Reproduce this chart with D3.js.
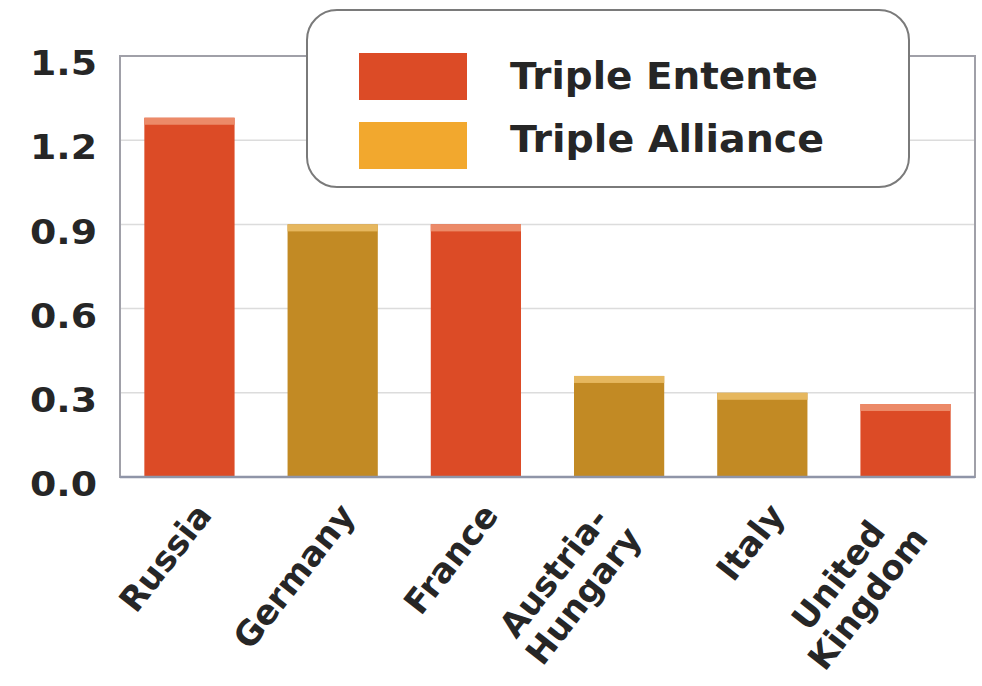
<!DOCTYPE html>
<html>
<head>
<meta charset="utf-8">
<script src="https://cdn.jsdelivr.net/npm/d3@7"></script>
<style>
  body { margin: 0; background: #fff; }
  text { font-family: "DejaVu Sans", sans-serif; font-weight: bold; fill: #262626; }
</style>
</head>
<body>
<svg id="chart" width="982" height="686"></svg>
<script>
// Data
const countries = ["Russia", "Germany", "France", "Austria-\nHungary", "Italy", "United\nKingdom"];
const values = [1.28, 0.9, 0.9, 0.36, 0.3, 0.26];
const alliances = ["Triple Entente", "Triple Alliance", "Triple Entente", "Triple Alliance", "Triple Alliance", "Triple Entente"];
const legendNames = ["Triple Entente", "Triple Alliance"];
const yTicks = [0, 0.3, 0.6, 0.9, 1.2, 1.5];

const barColor = { "Triple Entente": "#dc4b26", "Triple Alliance": "#c28a24" };
const barTop = { "Triple Entente": "#ec8a68", "Triple Alliance": "#e6b75e" };
const swatchColor = { "Triple Entente": "#dc4b26", "Triple Alliance": "#f2a82e" };

const svg = d3.select("#chart");
const plotLeft = 120, plotRight = 975, plotTop = 56, plotBottom = 477;

const x = d3.scaleBand()
    .domain(countries)
    .range([plotLeft, plotRight])
    .paddingInner(0.37)
    .paddingOuter(0.17);

const y = d3.scaleLinear()
    .domain([0, 1.5])
    .range([plotBottom, plotTop]);

// Grid lines
svg.append("g")
    .selectAll("line")
    .data(yTicks.slice(1, -1))
    .enter()
    .append("line")
    .attr("x1", plotLeft).attr("x2", plotRight)
    .attr("y1", d => y(d)).attr("y2", d => y(d))
    .attr("stroke", "#dcdcdc")
    .attr("stroke-width", 1.5);

// Bars with a lighter top strip
const rows = countries.map((c, i) => ({ c, v: values[i], a: alliances[i] }));
const bars = svg.append("g");
bars.selectAll(".bar")
    .data(rows)
    .enter()
    .append("rect")
    .attr("class", "bar")
    .attr("x", d => x(d.c))
    .attr("y", d => y(d.v))
    .attr("width", x.bandwidth())
    .attr("height", d => y(0) - y(d.v))
    .attr("fill", d => barColor[d.a]);
bars.selectAll(".bar-top")
    .data(rows)
    .enter()
    .append("rect")
    .attr("class", "bar-top")
    .attr("x", d => x(d.c))
    .attr("y", d => y(d.v))
    .attr("width", x.bandwidth())
    .attr("height", 7)
    .attr("fill", d => barTop[d.a]);

// Frame
svg.append("rect")
    .attr("x", plotLeft).attr("y", plotTop)
    .attr("width", plotRight - plotLeft).attr("height", plotBottom - plotTop)
    .attr("fill", "none")
    .attr("stroke", "#a0a0a8")
    .attr("stroke-width", 2);
svg.append("line")
    .attr("x1", plotLeft).attr("x2", plotRight)
    .attr("y1", plotBottom).attr("y2", plotBottom)
    .attr("stroke", "#8f95a8")
    .attr("stroke-width", 2.5);

// Y axis labels
const yAxis = svg.append("g")
    .attr("transform", `translate(${plotLeft},0)`)
    .call(d3.axisLeft(y).tickValues(yTicks).tickSize(0).tickPadding(23).tickFormat(d3.format(".1f")));
yAxis.select(".domain").remove();
yAxis.selectAll("text")
    .attr("dy", "0.55em")
    .style("font-size", "34px")
    .style("font-family", "DejaVu Sans")
    .style("font-weight", "bold")
    .attr("fill", "#262626")
    .attr("textLength", 67)
    .attr("lengthAdjust", "spacingAndGlyphs");

// X labels, rotated, top-right corner near the tick
const fs = 34;
countries.forEach(c => {
    const outer = svg.append("g");
    const inner = outer.append("g").attr("transform", "rotate(-52)");
    const lines = c.split("\n");
    lines.forEach((ln, k) => {
        inner.append("text")
            .attr("x", 0)
            .attr("y", k * fs * 1.1)
            .attr("text-anchor", "middle")
            .style("font-size", fs + "px")
            .text(ln);
    });
    const bb = outer.node().getBBox();
    const tx = x(c) + x.bandwidth() / 2 + 30 - (bb.x + bb.width);
    const ty = 496 - bb.y;
    outer.attr("transform", `translate(${tx},${ty})`);
});

// Legend
const lg = svg.append("g");
lg.append("rect")
    .attr("x", 307).attr("y", 10)
    .attr("width", 602).attr("height", 177)
    .attr("rx", 30).attr("ry", 30)
    .attr("fill", "#fff")
    .attr("stroke", "#7a7a7a")
    .attr("stroke-width", 2);
legendNames.forEach((name, i) => {
    lg.append("rect")
        .attr("x", 359).attr("y", 53 + i * 69)
        .attr("width", 108).attr("height", 47)
        .attr("fill", swatchColor[name]);
    lg.append("text")
        .attr("x", 510).attr("y", 89 + i * 63)
        .style("font-size", "37px")
        .attr("textLength", i === 0 ? 308 : 314)
        .attr("lengthAdjust", "spacingAndGlyphs")
        .text(name);
});
</script>
</body>
</html>
